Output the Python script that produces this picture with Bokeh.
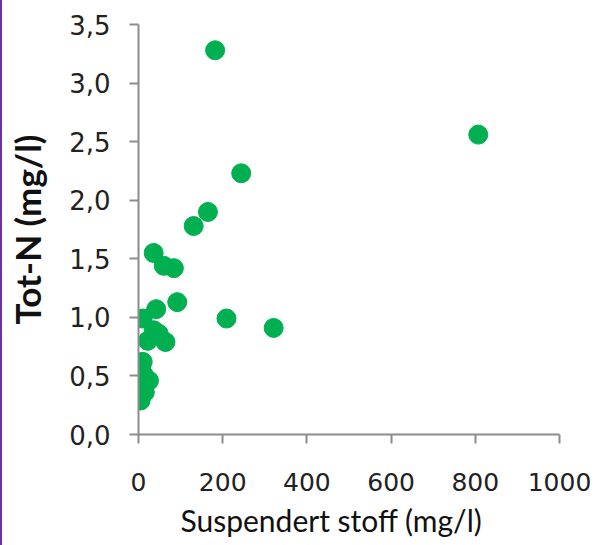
from bokeh.plotting import figure
from bokeh.models import Range1d, CustomJSTickFormatter, FixedTicker, ColumnDataSource, Title
from bokeh.embed import file_html
from bokeh.resources import INLINE

# Suspended solids vs total nitrogen, individual samples
susp_stoff = [182, 807, 244, 165, 131, 36, 60, 84, 92, 209, 321, 42,
              10, 36, 22, 64, 48, 10, 6, 12, 25, 8, 15, 5]
tot_n = [3.28, 2.56, 2.23, 1.90, 1.78, 1.55, 1.44, 1.42, 1.13, 0.99, 0.91, 1.07,
         0.99, 0.89, 0.80, 0.79, 0.86, 0.62, 0.57, 0.51, 0.46, 0.41, 0.36, 0.29]

x_ticks = [0, 200, 400, 600, 800, 1000]
y_ticks = [0.0, 0.5, 1.0, 1.5, 2.0, 2.5, 3.0, 3.5]

x_title = "Suspendert stoff (mg/l)"
y_title = "Tot-N (mg/l)"

src = ColumnDataSource(data=dict(x=susp_stoff, y=tot_n))

p = figure(width=593, height=545, output_backend="svg", toolbar_location=None,
           x_range=Range1d(0, 1000), y_range=Range1d(0, 3.5),
           min_border_left=136, min_border_right=36,
           min_border_top=24, min_border_bottom=111)
p.styles = {"border-left": "2px solid #7030A0"}
p.outline_line_color = None
p.grid.visible = False
p.background_fill_color = "white"
p.border_fill_color = "white"

p.scatter("x", "y", source=src, size=19, marker="circle",
          fill_color="#00B050", line_color="#00B050")

tick_font = "DejaVu Sans"
for ax in (p.xaxis[0], p.yaxis[0]):
    ax.axis_line_color = "#8c8c8c"
    ax.axis_line_width = 2
    ax.major_tick_line_color = "#8c8c8c"
    ax.major_tick_line_width = 2
    ax.major_tick_in = 0
    ax.major_tick_out = 9
    ax.minor_tick_line_color = None
    ax.major_label_text_font = tick_font
    ax.major_label_text_color = "#222222"

p.xaxis.major_label_text_font_size = "25px"
p.yaxis.major_label_text_font_size = "26px"

p.xaxis.ticker = FixedTicker(ticks=x_ticks)
p.yaxis.ticker = FixedTicker(ticks=y_ticks)
p.yaxis.formatter = CustomJSTickFormatter(code="return tick.toFixed(1).replace('.', ',');")
p.xaxis.major_label_standoff = 29
p.yaxis.major_label_standoff = 19

# x title, placed from the left edge of the plot frame
p.add_layout(Title(text=x_title, align="left", offset=42,
                   text_font="Lato", text_font_style="normal",
                   text_font_size="30px", text_color="#111111",
                   standoff=12), "below")

p.yaxis.axis_label = y_title
p.yaxis.axis_label_text_font = "Lato"
p.yaxis.axis_label_text_font_style = "bold"
p.yaxis.axis_label_text_font_size = "35px"
p.yaxis.axis_label_text_color = "#111111"
p.yaxis.axis_label_standoff = 18

open("out.html", "w").write(file_html(p, INLINE))
